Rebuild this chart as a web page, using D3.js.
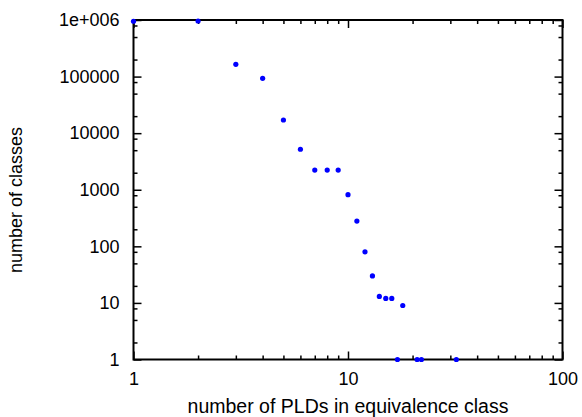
<!DOCTYPE html>
<html>
<head>
<meta charset="utf-8">
<script src="https://cdn.jsdelivr.net/npm/d3@7"></script>
<style>
  html, body { margin: 0; padding: 0; background: #fff; }
  svg { display: block; }
  text { font-family: "Liberation Sans", Arial, Helvetica, sans-serif; fill: #000; }
</style>
</head>
<body>
<svg id="chart" width="582" height="417"></svg>
<script>
// ---- data ----
const plds    = [1, 2, 3, 4, 5, 6, 7, 8, 9, 10, 11, 12, 13, 14, 15, 16, 17, 18, 21, 22, 32];
const classes = [950000, 960000, 165000, 93000, 17100, 5200, 2230, 2230, 2230, 820, 280, 80, 30, 13, 12, 12, 1, 9, 1, 1, 1];

const xTickValues = [1, 10, 100];
const xTickLabels = ["1", "10", "100"];
const yTickValues = [1, 10, 100, 1000, 10000, 100000, 1000000];
const yTickLabels = ["1", "10", "100", "1000", "10000", "100000", "1e+006"];
const xMinorMantissas = [2, 3, 4, 5, 6, 7, 8, 9];
const yMinorMantissas = [2, 5, 8];

const xTitle = "number of PLDs in equivalence class";
const yTitle = "number of classes";

// ---- layout ----
const L = 133.5, R = 562.5, T = 20, B = 359.5;
const FS = 18;

const svg = d3.select("#chart");
const x = d3.scaleLog().domain([1, 100]).range([L, R]);
const y = d3.scaleLog().domain([1, 1e6]).range([B, T]);

const xMinor = [];
[1, 10].forEach(p => xMinorMantissas.forEach(m => xMinor.push(m * p)));
const yMinor = [];
[1, 10, 100, 1000, 10000, 100000].forEach(p => yMinorMantissas.forEach(m => yMinor.push(m * p)));

function styleAxis(g) {
  g.select(".domain").remove();
  g.selectAll(".tick line").attr("stroke", "#000").attr("stroke-width", 1.5);
  g.selectAll(".tick text").attr("font-size", FS).attr("font-family", "Liberation Sans, Arial, sans-serif").attr("fill", "#000");
}

// bottom major with labels
svg.append("g").attr("transform", `translate(0,${B})`)
  .call(d3.axisBottom(x).tickValues(xTickValues).tickFormat((d, i) => xTickLabels[i]).tickSizeInner(-8).tickSizeOuter(0).tickPadding(13))
  .call(styleAxis);
// bottom minor
svg.append("g").attr("transform", `translate(0,${B})`)
  .call(d3.axisBottom(x).tickValues(xMinor).tickFormat("").tickSizeInner(-4).tickSizeOuter(0))
  .call(styleAxis);
// top major + minor (mirror)
svg.append("g").attr("transform", `translate(0,${T})`)
  .call(d3.axisTop(x).tickValues(xTickValues).tickFormat("").tickSizeInner(-8).tickSizeOuter(0))
  .call(styleAxis);
svg.append("g").attr("transform", `translate(0,${T})`)
  .call(d3.axisTop(x).tickValues(xMinor).tickFormat("").tickSizeInner(-4).tickSizeOuter(0))
  .call(styleAxis);

// left major with labels
svg.append("g").attr("transform", `translate(${L},0)`)
  .call(d3.axisLeft(y).tickValues(yTickValues).tickFormat((d, i) => yTickLabels[i]).tickSizeInner(-8).tickSizeOuter(0).tickPadding(14))
  .call(styleAxis);
svg.append("g").attr("transform", `translate(${L},0)`)
  .call(d3.axisLeft(y).tickValues(yMinor).tickFormat("").tickSizeInner(-4).tickSizeOuter(0))
  .call(styleAxis);
// right mirror
svg.append("g").attr("transform", `translate(${R},0)`)
  .call(d3.axisRight(y).tickValues(yTickValues).tickFormat("").tickSizeInner(-8).tickSizeOuter(0))
  .call(styleAxis);
svg.append("g").attr("transform", `translate(${R},0)`)
  .call(d3.axisRight(y).tickValues(yMinor).tickFormat("").tickSizeInner(-4).tickSizeOuter(0))
  .call(styleAxis);

// frame
svg.append("rect")
  .attr("x", L).attr("y", T).attr("width", R - L).attr("height", B - T)
  .attr("fill", "none").attr("stroke", "#000").attr("stroke-width", 2);

// titles
svg.append("text")
  .attr("x", (L + R) / 2).attr("y", 413)
  .attr("text-anchor", "middle").attr("font-size", 19.5)
  .text(xTitle);
svg.append("text")
  .attr("transform", `translate(22,200) rotate(-90)`)
  .attr("text-anchor", "middle").attr("font-size", FS)
  .text(yTitle);

// points
svg.append("g").selectAll("circle")
  .data(plds.map((d, i) => [d, classes[i]]))
  .join("circle")
  .attr("cx", d => x(d[0]))
  .attr("cy", d => y(d[1]))
  .attr("r", 2.6)
  .attr("fill", "#0000ff");
</script>
</body>
</html>
